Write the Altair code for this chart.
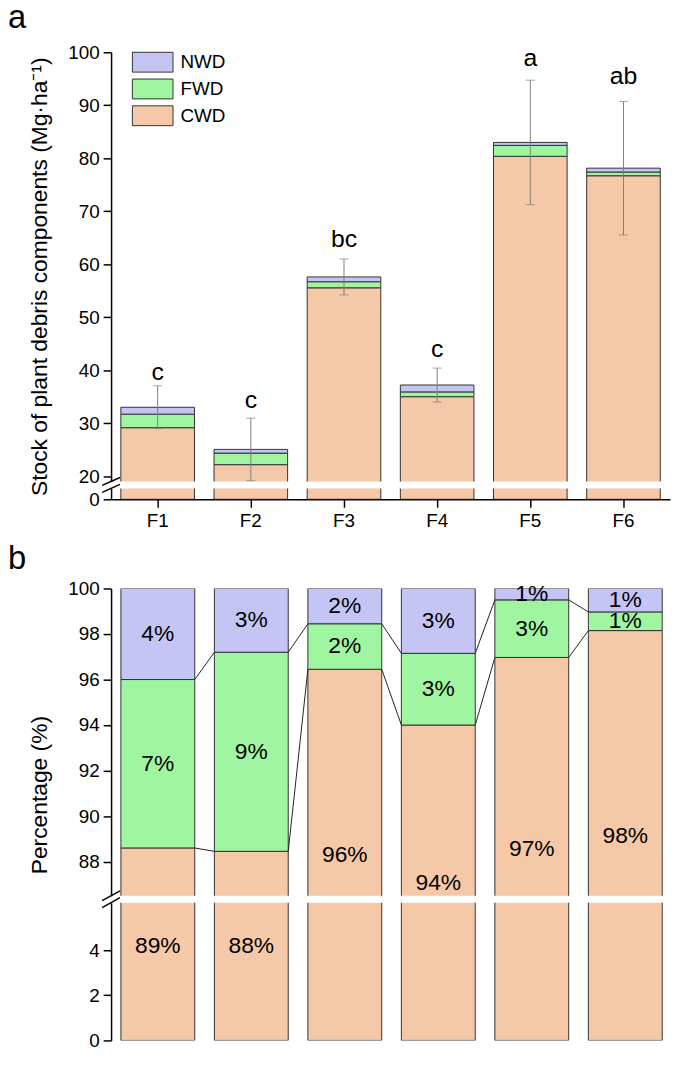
import altair as alt
import pandas as pd

FONT = "Liberation Sans"

sites = ["F1", "F2", "F3", "F4", "F5", "F6"]
comps = ["NWD", "FWD", "CWD"]
comp_colors = ["#C4C4F5", "#A0F5A0", "#F5C8A7"]

# ---- panel a: stock of plant debris components (Mg/ha)
cwd_stock = [29.15, 22.17, 55.55, 35.0, 80.37, 76.7]
fwd_stock = [2.55, 2.18, 1.15, 0.9, 2.06, 0.70]
nwd_stock = [1.30, 0.70, 0.90, 1.30, 0.56, 0.73]
stock_sd = [4.05, 5.9, 3.4, 3.2, 11.75, 12.6]
letters = ["c", "c", "bc", "c", "a", "ab"]
letter_y = [38.1, 32.95, 63.2, 42.5, 97.4, 94.1]

# ---- panel b: percentage of each component
cwd_pct = [88.6, 88.45, 96.45, 94.0, 96.97, 98.15]
fwd_pct = [7.4, 8.75, 2.0, 3.15, 2.53, 0.82]
nwd_pct = [4.0, 2.8, 1.55, 2.85, 0.5, 1.03]
cwd_text = ["89%", "88%", "96%", "94%", "97%", "98%"]
fwd_text = ["7%", "9%", "2%", "3%", "3%", "1%"]
nwd_text = ["4%", "3%", "2%", "3%", "1%", "1%"]
cwd_text_y = [4.2, 4.2, 88.3, 87.05, 88.55, 89.1]

panel_letters = ["a", "b"]


def stack_table(cwd, fwd, nwd):
    rows = []
    for i, s in enumerate(sites):
        lo = 0.0
        for comp, v in (("CWD", cwd[i]), ("FWD", fwd[i]), ("NWD", nwd[i])):
            rows.append({"site": s, "comp": comp, "lo": lo, "hi": lo + v})
            lo += v
    return pd.DataFrame(rows)


stack_a = stack_table(cwd_stock, fwd_stock, nwd_stock)
stack_b = stack_table(cwd_pct, fwd_pct, nwd_pct)

tot = [c + f + n for c, f, n in zip(cwd_stock, fwd_stock, nwd_stock)]
err_a = pd.DataFrame({
    "site": sites,
    "lo": [t - s for t, s in zip(tot, stock_sd)],
    "hi": [t + s for t, s in zip(tot, stock_sd)],
    "letter": letters,
    "ly": letter_y,
})

lab_rows = []
for i, s in enumerate(sites):
    lab_rows.append({"site": s, "y": cwd_text_y[i], "txt": cwd_text[i]})
    lab_rows.append({"site": s, "y": cwd_pct[i] + fwd_pct[i] / 2, "txt": fwd_text[i]})
    lab_rows.append({"site": s, "y": cwd_pct[i] + fwd_pct[i] + nwd_pct[i] / 2, "txt": nwd_text[i]})
lab_b = pd.DataFrame(lab_rows)

top_cwd = cwd_pct
top_fwd = [c + f for c, f in zip(cwd_pct, fwd_pct)]
conn_rows = []
for i in range(len(sites) - 1):
    for arr in (top_cwd, top_fwd):
        conn_rows.append({"s1": sites[i], "s2": sites[i + 1], "ya": arr[i], "yb": arr[i + 1]})
conn_b = pd.DataFrame(conn_rows)

one = pd.DataFrame({"k": [0]})

col_scale = alt.Scale(domain=comps, range=comp_colors)
xa = alt.Scale(domain=sites, paddingInner=0.21, paddingOuter=0.105)
xb = alt.Scale(domain=sites, paddingInner=0.21, paddingOuter=0.105)

W_A, W_B = 564, 566
H_AU, H_AL = 433, 11
H_BU, H_BL = 310, 139
GAP = 7

BAR = dict(stroke="#333333", strokeWidth=1, clip=True)
LBL = 19


def slash(y1, y2):
    return alt.Chart(one).mark_rule(color="black", strokeWidth=1.5).encode(
        x=alt.value(-9), x2=alt.value(9), y=alt.value(y1), y2=alt.value(y2))


def panel_tag(t, ybase):
    return alt.Chart(one).mark_text(text=t, font=FONT, fontSize=33, color="black",
                                    align="left", baseline="alphabetic").encode(
        x=alt.value(-104), y=alt.value(ybase))


# ---------------- panel a upper ----------------
ya_u = alt.Scale(domain=[19, 100], nice=False, zero=False)
bars_au = alt.Chart(stack_a).mark_bar(**BAR).encode(
    x=alt.X("site:N", scale=xa, axis=None),
    y=alt.Y("hi:Q", scale=ya_u,
            axis=alt.Axis(values=list(range(20, 101, 10)),
                          title="Stock of plant debris components (Mg·ha⁻¹)",
                          titleY=226, titlePadding=16)),
    y2="lo:Q",
    color=alt.Color("comp:N", scale=col_scale,
                    legend=alt.Legend(title=None, orient="none", legendX=31, legendY=-1,
                                      symbolType="M-2,-0.976H2V0.976H-2Z", symbolSize=420,
                                      symbolStrokeColor="#333333", symbolStrokeWidth=1,
                                      labelFont=FONT, labelFontSize=LBL, labelColor="black",
                                      labelOffset=17, rowPadding=1)),
)
err_rule = alt.Chart(err_a).mark_rule(color="#808080", strokeWidth=1, clip=True).encode(
    x=alt.X("site:N", scale=xa, axis=None),
    y=alt.Y("lo:Q", scale=ya_u), y2="hi:Q")
err_cap_hi = alt.Chart(err_a).mark_tick(color="#808080", thickness=1, size=9).encode(
    x=alt.X("site:N", scale=xa, axis=None), y=alt.Y("hi:Q", scale=ya_u))
err_cap_lo = alt.Chart(err_a).mark_tick(color="#808080", thickness=1, size=9).encode(
    x=alt.X("site:N", scale=xa, axis=None), y=alt.Y("lo:Q", scale=ya_u))
letters_t = alt.Chart(err_a).mark_text(font=FONT, fontSize=25, color="black",
                                        baseline="alphabetic").encode(
    x=alt.X("site:N", scale=xa, axis=None), y=alt.Y("ly:Q", scale=ya_u), text="letter:N")

a_upper = alt.layer(bars_au, err_rule, err_cap_hi, err_cap_lo, letters_t,
                    slash(H_AU + 4, H_AU - 4), panel_tag(panel_letters[0], -25)).properties(
    width=W_A, height=H_AU)

# ---------------- panel a lower ----------------
ya_l = alt.Scale(domain=[0, 2], nice=False)
bars_al = alt.Chart(stack_a).mark_bar(**BAR).encode(
    x=alt.X("site:N", scale=xa,
            axis=alt.Axis(title=None, labelAngle=0, labelPadding=4)),
    y=alt.Y("hi:Q", scale=ya_l, axis=alt.Axis(values=[0], title=None)),
    y2="lo:Q",
    color=alt.Color("comp:N", scale=col_scale, legend=None),
)
a_lower = alt.layer(bars_al, slash(4, -4)).properties(width=W_A, height=H_AL)

panel_a = alt.vconcat(a_upper, a_lower, spacing=GAP, bounds="flush").resolve_scale(
    y="independent", x="independent")

# ---------------- panel b upper ----------------
yb_u = alt.Scale(domain=[86.5, 100], nice=False, zero=False)
bars_bu = alt.Chart(stack_b).mark_bar(**BAR).encode(
    x=alt.X("site:N", scale=xb, axis=None),
    y=alt.Y("hi:Q", scale=yb_u,
            axis=alt.Axis(values=list(range(88, 101, 2)), title="Percentage (%)",
                          titleY=208, titlePadding=16)),
    y2="lo:Q",
    color=alt.Color("comp:N", scale=col_scale, legend=None),
)
conn = alt.Chart(conn_b).mark_rule(color="#222222", strokeWidth=1).encode(
    x=alt.X("s1:N", scale=xb, bandPosition=1, axis=None),
    x2=alt.X2("s2", bandPosition=0),
    y=alt.Y("ya:Q", scale=yb_u), y2="yb:Q")
txt_bu = alt.Chart(lab_b).transform_filter("datum.y > 86.5").mark_text(
    font=FONT, fontSize=23, color="black", baseline="middle").encode(
    x=alt.X("site:N", scale=xb, axis=None), y=alt.Y("y:Q", scale=yb_u), text="txt:N")

b_upper = alt.layer(bars_bu, conn, txt_bu, slash(H_BU + 5, H_BU - 5),
                    panel_tag(panel_letters[1], -20)).properties(width=W_B, height=H_BU)

# ---------------- panel b lower ----------------
yb_l = alt.Scale(domain=[0, 6.1], nice=False)
bars_bl = alt.Chart(stack_b).mark_bar(**BAR).encode(
    x=alt.X("site:N", scale=xb,
            axis=alt.Axis(title=None, labelAngle=0, labelPadding=5, tickBand="extent")),
    y=alt.Y("hi:Q", scale=yb_l, axis=alt.Axis(values=[0, 2, 4], title=None)),
    y2="lo:Q",
    color=alt.Color("comp:N", scale=col_scale, legend=None),
)
txt_bl = alt.Chart(lab_b).transform_filter("datum.y < 6.1").mark_text(
    font=FONT, fontSize=23, color="black", baseline="middle").encode(
    x=alt.X("site:N", scale=xb, axis=None), y=alt.Y("y:Q", scale=yb_l), text="txt:N")
b_lower = alt.layer(bars_bl, txt_bl, slash(5, -5)).properties(width=W_B, height=H_BL)

panel_b = alt.vconcat(b_upper, b_lower, spacing=GAP, bounds="flush").resolve_scale(
    y="independent", x="independent")

chart = alt.vconcat(panel_a, panel_b, spacing=13).resolve_scale(
    y="independent", x="independent").properties(
    padding={"left": 0, "top": -11, "right": 5, "bottom": 0}
).configure_view(stroke=None).configure_axis(
    grid=False, domainColor="black", domainWidth=1.5, tickColor="black", tickWidth=1.5,
    tickSize=8, labelFont=FONT, labelFontSize=LBL, labelColor="black", labelPadding=4,
    titleFont=FONT, titleFontSize=23, titleFontWeight="normal", titleColor="black",
)

chart.save("out.html", embed_options={"renderer": "svg", "actions": False})
